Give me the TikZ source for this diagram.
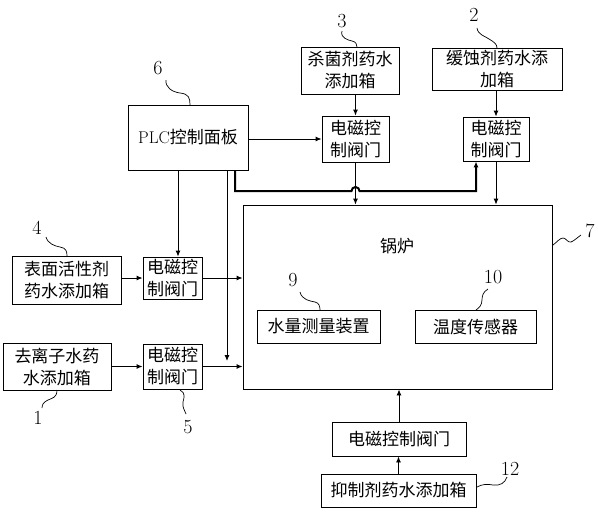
\documentclass[tikz,border=0pt]{standalone}
\usepackage{fontspec}
\newfontfamily\cjk{Noto Sans CJK SC}
\usetikzlibrary{calc,arrows.meta}

\begin{document}
\begin{tikzpicture}[x=1pt,y=-1pt,line width=.9pt,
    box/.style={draw,inner sep=0pt,align=center,font=\cjk\fontsize{17}{22}\selectfont},
    arr/.style={-{Latex[length=6pt,width=5pt]}},
    num/.style={font=\fontsize{20}{20}\selectfont},
    lead/.style={line width=.7pt}]
  \useasboundingbox (0,0) rectangle (598,515);
  % boxes
  \node[box,minimum width=120pt,minimum height=65pt] (plc) at (188,137.5) {{\rmfamily PLC}控制面板};
  \node[box,minimum width=98pt,minimum height=47pt] (tank3) at (350,70.5) {杀菌剂药水\\添加箱};
  \node[box,minimum width=67pt,minimum height=46pt] (valve3) at (355.5,139) {电磁控\\制阀门};
  \node[box,minimum width=130pt,minimum height=42pt] (tank2) at (497,69) {缓蚀剂药水添\\加箱};
  \node[box,minimum width=66pt,minimum height=44pt] (valve2) at (496,139) {电磁控\\制阀门};
  \node[box,minimum width=309pt,minimum height=184pt] (boiler) at (397.5,297) {};
  \node[font=\cjk\fontsize{17}{22}\selectfont] (boilertext) at (397,246) {锅炉};
  \node[box,minimum width=123pt,minimum height=33pt] (water) at (318.5,326.5) {水量测量装置};
  \node[box,minimum width=121pt,minimum height=33pt] (temp) at (475.5,326.5) {温度传感器};
  \node[box,minimum width=109pt,minimum height=48pt] (tank4) at (66.5,280) {表面活性剂\\药水添加箱};
  \node[box,minimum width=59pt,minimum height=42pt] (valve4) at (172.5,278) {电磁控\\制阀门};
  \node[box,minimum width=108pt,minimum height=47pt] (tank1) at (57,366.5) {去离子水药\\水添加箱};
  \node[box,minimum width=59pt,minimum height=45pt] (valve5) at (172.5,366.5) {电磁控\\制阀门};
  \node[box,minimum width=134pt,minimum height=34pt] (valve12) at (399,439) {电磁控制阀门};
  \node[box,minimum width=155pt,minimum height=33pt] (tank12) at (398.5,490.5) {抑制剂药水添加箱};
  % connectors
  \draw[arr] (plc.east |- valve3.west) -- (valve3.west);
  \draw[arr] (valve3.north |- tank3.south) -- (valve3.north);
  \draw[arr] (valve2.north |- tank2.south) -- (valve2.north);
  \draw[arr] (valve3.south) -- (valve3.south |- boiler.north);
  \draw[arr] (valve2.south) -- (valve2.south |- boiler.north);
  \draw[arr] ([xshift=5.5pt]valve4.north |- plc.south) -- ([xshift=5.5pt]valve4.north);
  \draw[arr] (tank4.east |- valve4.west) -- (valve4.west);
  \draw[arr] (valve4.east) -- (valve4.east -| boiler.west);
  \draw[arr] (tank1.east) -- (valve5.west);
  \draw[arr] (valve5.east) -- (valve5.east -| boiler.west);
  \coordinate (drop) at (227,361);
  \draw[arr] (drop |- plc.south) -- (drop);
  \coordinate (bend) at (235,191);
  \coordinate (hop) at ($(valve3.south |- bend)+(-4,0)$);
  \coordinate (up) at ($(valve2.south)+(-20,0)$);
  \draw[arr,line width=2pt] (bend |- plc.south) -- (bend) -- (hop) arc (180:360:4) -- (up |- bend) -- (up);
  \draw[arr] (valve12.north) -- (valve12.north |- boiler.south);
  \draw[arr] (tank12.north) -- (tank12.north |- valve12.south);
  % numbers and leaders
  \node[num] (n3) at (342,21) {3};
  \draw[lead] (342,31) .. controls (340,38) and (348,40) .. (352,41) .. controls (356,42) and (357,44) .. (357,47);
  \node[num] (n6) at (158,68) {6};
  \draw[lead] (166,80) .. controls (165,87) and (172,92) .. (180,93) .. controls (189,94) and (190,98) .. (190,105);
  \node[num] (n2) at (474,15) {2};
  \draw[lead] (477,28) .. controls (478,35) and (485,36) .. (489,39) .. controls (494,42) and (497,44) .. (497,48);
  \node[num] (n4) at (37,228) {4};
  \draw[lead] (46,237) .. controls (48,244) and (55,246) .. (60,247) .. controls (66,248) and (67,251) .. (67,256);
  \node[num] (n1) at (38,418) {1};
  \draw[lead] (57,390) .. controls (57,398) and (52,398) .. (48,400) .. controls (44,402) and (42,404) .. (42,408);
  \node[num] (n5) at (188,427) {5};
  \draw[lead] (180,390) .. controls (186,393) and (184,398) .. (183,402) .. controls (182,408) and (185,410) .. (186,414);
  \node[num] (n7) at (590,231) {7};
  \draw[lead] (553,245) .. controls (557,242) and (560,238) .. (563,238) .. controls (566,238) and (568,243) .. (571,242) .. controls (574,241) and (578,237) .. (581,235);
  \node[num] (n9) at (293,280) {9};
  \draw[lead] (300,292) .. controls (302,300) and (310,301) .. (315,302) .. controls (319,303) and (320,306) .. (320,310);
  \node[num] (n10) at (493,277) {10};
  \draw[lead] (488,289) .. controls (483,292) and (482,296) .. (482,300) .. controls (482,305) and (479,308) .. (476,310);
  \node[num] (n12) at (510,469) {12};
  \draw[lead] (477,487) .. controls (482,484) and (488,484) .. (493,485) .. controls (500,486) and (505,483) .. (507,477);
\end{tikzpicture}
\end{document}
